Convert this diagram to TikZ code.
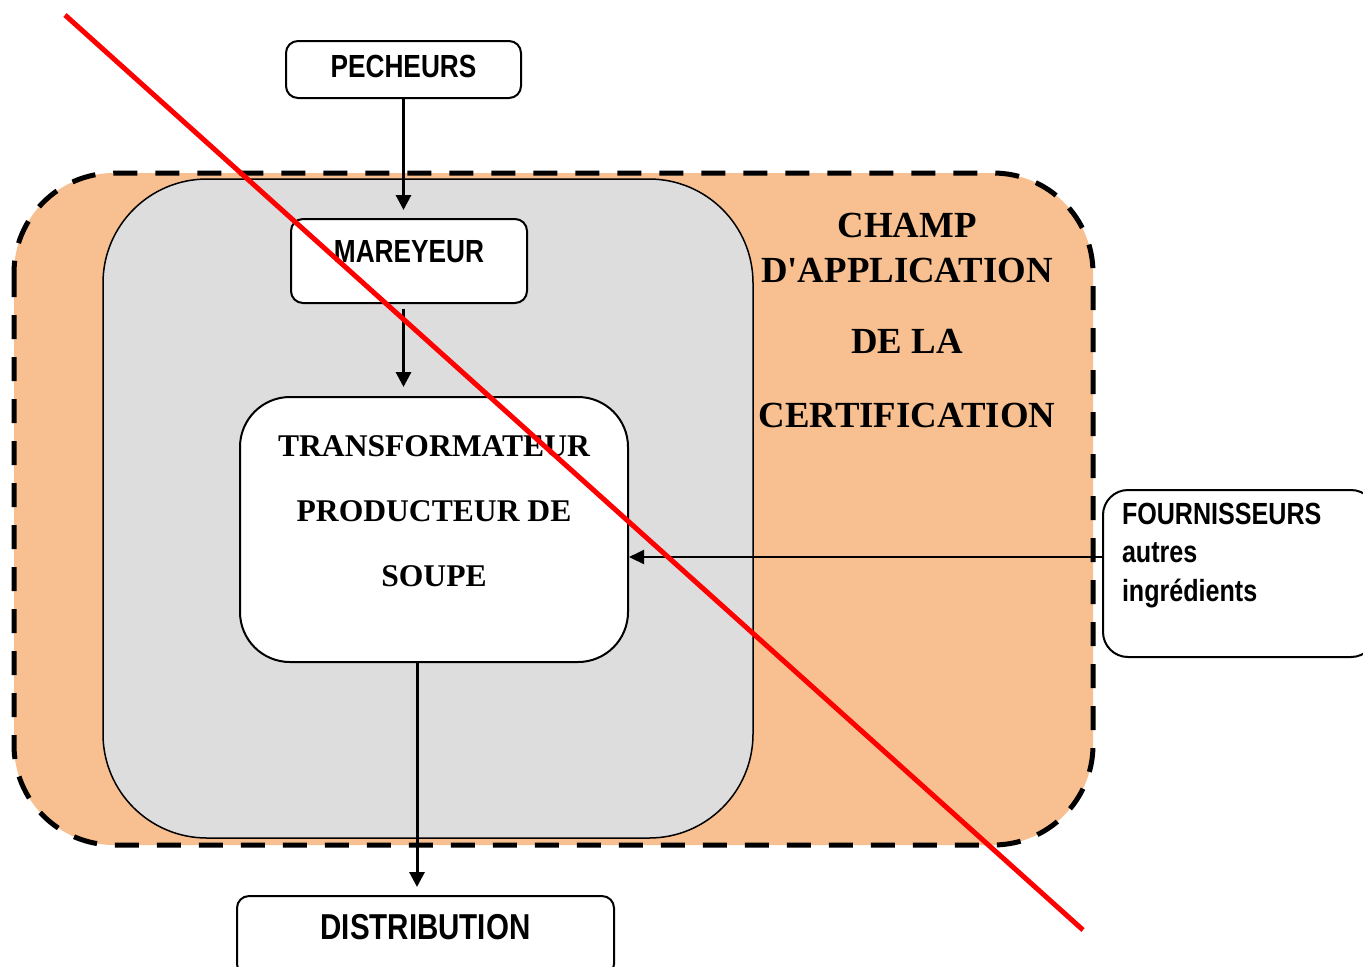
\documentclass[tikz,border=0pt]{standalone}
\usepackage{fontspec}
\setmainfont{Liberation Serif}
\newfontfamily\narrowsans[FakeStretch=0.82]{Liberation Sans}
\usetikzlibrary{arrows.meta}
\definecolor{champ}{RGB}{248,192,144}
\definecolor{maillon}{RGB}{221,221,221}
\begin{document}
\begin{tikzpicture}[
x=0.5pt,y=-0.5pt,
acteur/.style={draw,rounded corners=6pt,line width=1pt,fill=white,inner sep=0pt,
  font=\narrowsans\fontsize{16}{19}\selectfont\bfseries},
usine/.style={draw,rounded corners=25pt,line width=1pt,fill=white,inner sep=0pt,align=center,
  font=\fontsize{15.8}{32.5}\selectfont\bfseries},
flux/.style={-{Triangle[length=7.5pt,width=7.5pt]},line width=1.5pt},
rature/.style={red,line width=2.5pt}
]
\useasboundingbox (0,0) rectangle (1363,966);
\draw[fill=champ,line width=2.5pt,dash pattern=on 12pt off 9pt,rounded corners=50pt] (14,173) rectangle (1093,845);
\draw[fill=maillon,line width=0.75pt,rounded corners=52pt] (103,179) rectangle (753,838);
\node[align=center,font=\fontsize{18.4}{22.5}\selectfont\bfseries] (perimetre) at (907,320)
  {CHAMP\\D\textquotesingle APPLICATION\\[13pt]DE LA\\[14.5pt]CERTIFICATION};
\node[acteur,minimum width=117.5pt,minimum height=28.5pt,text depth=3pt] (peche) at (403.5,69.5) {PECHEURS};
\node[acteur,minimum width=118pt,minimum height=42pt,text depth=10pt] (mar) at (409,261) {MAREYEUR};
\node[usine,minimum width=194pt,minimum height=132.5pt,text depth=18pt] (trans) at (434,529.5)
  {TRANSFORMATEUR\\PRODUCTEUR DE\\SOUPE};
\node[acteur,font=\narrowsans\fontsize{18}{21}\selectfont\bfseries,minimum width=188.5pt,minimum height=40pt,text depth=9pt] (dist) at (425.5,936) {DISTRIBUTION};
\node[acteur,rounded corners=12.5pt,anchor=west,align=left,text width=117.5pt,inner xsep=9.5pt,
  minimum height=83.5pt,text depth=60pt,font=\narrowsans\fontsize{15.3}{19.25}\selectfont\bfseries] (four) at (1102,573.5)
  {FOURNISSEURS\\autres\\ingrédients};
\coordinate (apport) at (1102,557);
\draw[flux,shorten >=4pt] (peche) -- (peche |- mar.north);
\draw[flux,shorten <=2.5pt,shorten >=4.5pt] (peche.south |- mar.south) -- (peche.south |- trans.north);
\draw[flux,shorten >=4pt] ([xshift=-8.5pt]trans.south) -- ([xshift=-8.5pt]trans.south |- dist.north);
\draw[-{Triangle[length=7.5pt,width=7pt]},line width=1pt] (apport) -- (trans.east |- apport);
\draw[rature] (65,15) -- (1083,930);
\end{tikzpicture}
\end{document}
